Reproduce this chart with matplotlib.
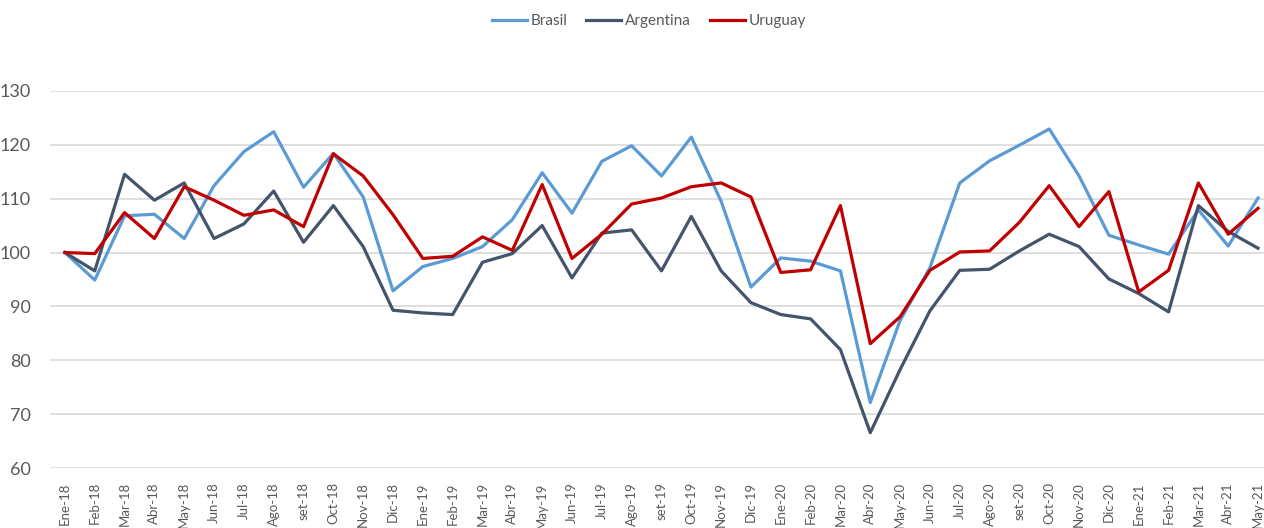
import matplotlib.pyplot as plt
import numpy as np

plt.rcParams['font.family'] = ['Lato', 'DejaVu Sans']

meses = ["Ene-18", "Feb-18", "Mar-18", "Abr-18", "May-18", "Jun-18", "Jul-18", "Ago-18", "set-18", "Oct-18",
         "Nov-18", "Dic-18", "Ene-19", "Feb-19", "Mar-19", "Abr-19", "May-19", "Jun-19", "Jul-19", "Ago-19",
         "set-19", "Oct-19", "Nov-19", "Dic-19", "Ene-20", "Feb-20", "Mar-20", "Abr-20", "May-20", "Jun-20",
         "Jul-20", "Ago-20", "set-20", "Oct-20", "Nov-20", "Dic-20", "Ene-21", "Feb-21", "Mar-21", "Abr-21",
         "May-21"]

brasil = [100.0, 94.9, 106.8, 107.1, 102.6, 112.4, 118.7, 122.4, 112.1, 118.4,
          110.3, 92.9, 97.4, 98.9, 101.1, 106.1, 114.8, 107.3, 116.9, 119.8,
          114.2, 121.4, 109.5, 93.6, 99.0, 98.4, 96.6, 72.2, 87.4, 97.2,
          112.9, 117.0, 119.9, 122.9, 114.2, 103.2, 101.4, 99.7, 107.9, 101.2,
          110.1]

argentina = [100.0, 96.6, 114.5, 109.7, 112.9, 102.6, 105.3, 111.4, 101.9, 108.7,
             101.1, 89.3, 88.8, 88.5, 98.2, 99.8, 105.0, 95.3, 103.6, 104.2,
             96.6, 106.7, 96.6, 90.7, 88.5, 87.7, 82.0, 66.6, 78.3, 89.2,
             96.7, 96.9, 100.3, 103.4, 101.1, 95.1, 92.4, 89.0, 108.7, 103.9,
             100.8]

uruguay = [100.0, 99.8, 107.4, 102.6, 112.2, 109.7, 106.9, 107.9, 104.8, 118.3,
           114.2, 107.0, 98.9, 99.3, 102.9, 100.4, 112.6, 98.9, 103.4, 109.0,
           110.1, 112.2, 112.9, 110.3, 96.3, 96.8, 108.7, 83.1, 88.1, 96.7,
           100.1, 100.3, 105.6, 112.4, 104.8, 111.3, 92.7, 96.7, 112.9, 103.4,
           108.2]

x = np.arange(len(meses))

fig = plt.figure(figsize=(12.64, 5.28), dpi=100)
ax = fig.add_axes([50 / 1264, 1 - 468.3 / 528, 1214 / 1264, (468.3 - 90.7) / 528])

ax.plot(x, brasil, color='#5B9BD5', lw=2.3, label='Brasil')
ax.plot(x, argentina, color='#44546A', lw=2.3, label='Argentina')
ax.plot(x, uruguay, color='#C00000', lw=2.3, label='Uruguay')

ax.set_ylim(60, 130)
ax.set_yticks(range(60, 131, 10))
ax.set_xlim(-0.5, 40.2)
ax.set_xticks(x)
ax.set_xticklabels(meses, rotation=90, fontsize=9.5, color='#595959')
ax.tick_params(axis='y', labelsize=13, labelcolor='#595959', length=0, pad=14)
ax.tick_params(axis='x', length=0, pad=10)
ax.grid(axis='y', color='#D9D9D9', lw=1.2)
ax.set_axisbelow(True)
for s in ax.spines.values():
    s.set_visible(False)

fig.legend(loc='center', bbox_to_anchor=(649 / 1264, 1 - 21 / 528), ncol=3, frameon=False,
           fontsize=11, handlelength=2.3, handletextpad=0.25, columnspacing=1.2,
           labelcolor='#595959')

fig.savefig('out.png', dpi=100)
